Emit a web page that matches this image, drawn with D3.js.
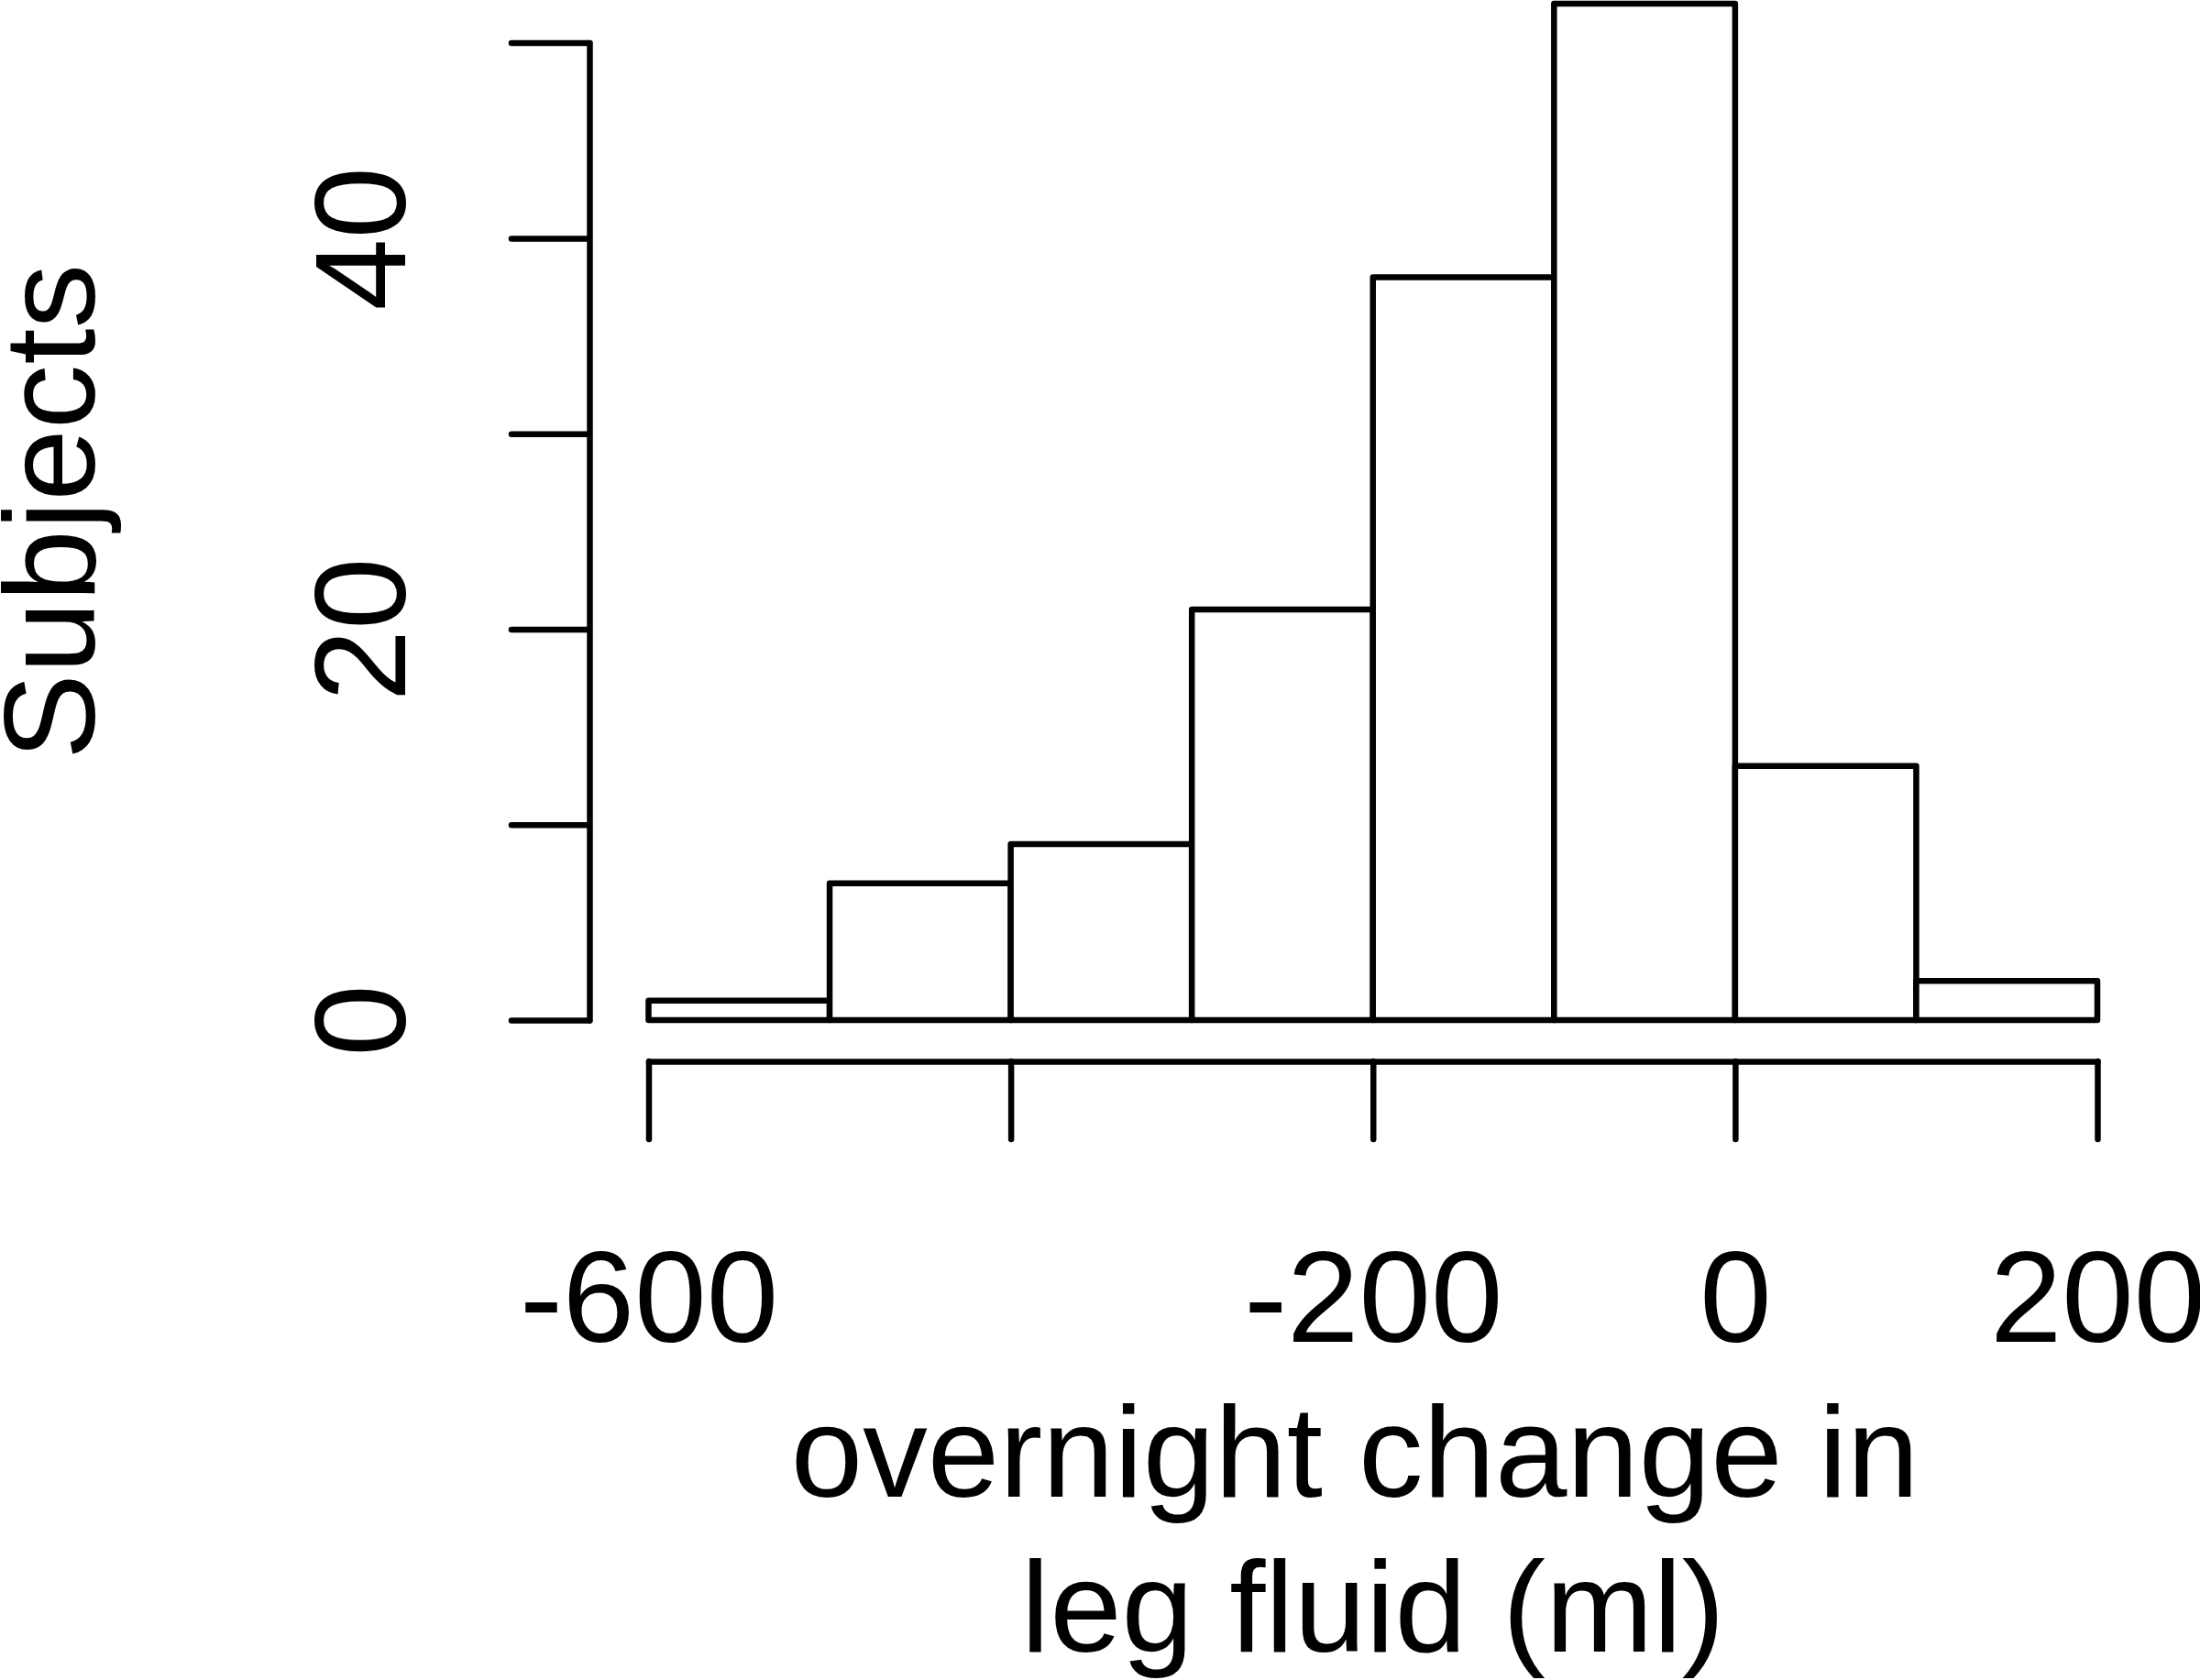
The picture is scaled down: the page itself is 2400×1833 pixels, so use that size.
<!DOCTYPE html>
<html>
<head>
<meta charset="utf-8">
<script src="https://cdn.jsdelivr.net/npm/d3@7"></script>
<style>
  body { margin: 0; background: #fff; }
  text { font-family: "Liberation Sans", Arial, sans-serif; fill: #000; }
</style>
</head>
<body>
<svg></svg>
<script>
const [width, height] = [2400, 1833];

// histogram data: bin edges (ml) and subject counts
const binEdges = [-600, -500, -400, -300, -200, -100, 0, 100, 200];
const counts = [1, 7, 9, 21, 38, 52, 13, 2];
const xTicks = [-600, -400, -200, 0, 200];
const xTickLabels = [-600, -200, 0, 200];
const yTicks = [0, 10, 20, 30, 40, 50];
const yTickLabels = [0, 20, 40];

const fontSize = 141;
const lw = 6.5;

const svg = d3.select('svg').attr('width', width).attr('height', height);

const x = d3.scaleLinear().domain([-600, 200]).range([707.5, 2288]);
const y = d3.scaleLinear().domain([0, 50]).range([1113, 46.6]);

const bins = counts.map((c, i) => ({ x0: binEdges[i], x1: binEdges[i + 1], n: c }));

// bars
svg.append('g').selectAll('rect')
  .data(bins)
  .join('rect')
  .attr('x', d => x(d.x0))
  .attr('y', d => y(d.n))
  .attr('width', d => x(d.x1) - x(d.x0))
  .attr('height', d => y(0) - y(d.n))
  .attr('fill', 'white')
  .attr('stroke', 'black')
  .attr('stroke-width', lw)
  .attr('stroke-linejoin', 'round');

// y axis
const yAxisX = 643;
const yAxis = svg.append('g')
  .attr('transform', `translate(${yAxisX},0)`)
  .call(d3.axisLeft(y).tickValues(yTicks).tickSize(85).tickSizeOuter(0)
    .tickFormat(d => yTickLabels.includes(d) ? String(d) : ''));

// x axis
const xAxisY = 1158;
const xAxis = svg.append('g')
  .attr('transform', `translate(0,${xAxisY})`)
  .call(d3.axisBottom(x).tickValues(xTicks).tickSize(85).tickSizeOuter(0)
    .tickFormat(d => xTickLabels.includes(d) ? String(d) : ''));

[yAxis, xAxis].forEach(a => {
  a.selectAll('path.domain, line')
    .attr('stroke', 'black')
    .attr('stroke-width', lw)
    .attr('stroke-linecap', 'round');
  a.selectAll('text')
    .attr('fill', 'black')
    .style('font-size', fontSize + 'px')
    .style('font-family', '"Liberation Sans", Arial, sans-serif');
});

yAxis.selectAll('text')
  .attr('x', null).attr('dy', null)
  .attr('text-anchor', 'middle')
  .attr('transform', `translate(${442 - yAxisX},0) rotate(-90)`);

xAxis.selectAll('text')
  .attr('dy', null)
  .attr('y', 1464 - xAxisY)
  .attr('text-anchor', 'middle');

// axis titles
const midX = x(-200);
svg.append('text')
  .attr('x', midX).attr('y', 1633)
  .attr('text-anchor', 'middle')
  .style('font-size', fontSize + 'px')
  .style('white-space', 'pre')
  .text('overnight change in ');

svg.append('text')
  .attr('x', midX).attr('y', 1802)
  .attr('text-anchor', 'middle')
  .style('font-size', fontSize + 'px')
  .text('leg fluid (ml)');

svg.append('text')
  .attr('transform', `translate(103,${y(d3.max(counts) / 2)}) rotate(-90)`)
  .attr('text-anchor', 'middle')
  .style('font-size', fontSize + 'px')
  .text('Subjects');
</script>
</body>
</html>
